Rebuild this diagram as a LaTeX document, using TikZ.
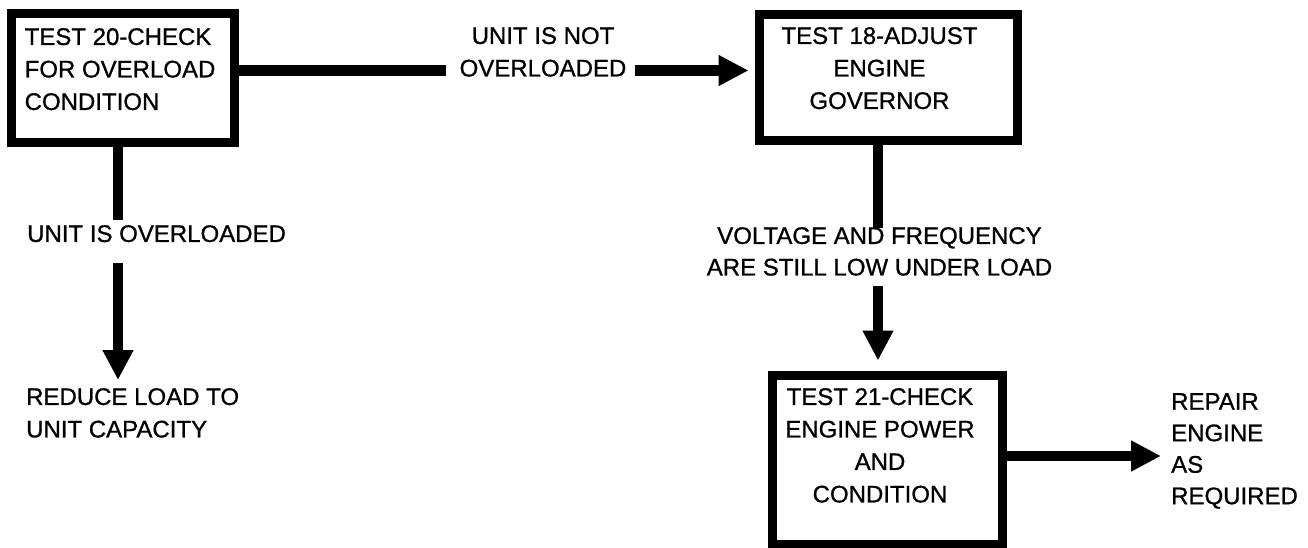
\documentclass[tikz,border=0pt]{standalone}
\usepackage{fontspec}
\setmainfont{Liberation Sans}[FakeBold=0.9]
\usetikzlibrary{arrows.meta}
\begin{document}
\begin{tikzpicture}[x=1pt,y=-1pt,
  box/.style={draw=black, line width=9pt, inner sep=0pt, rectangle},
  txt/.style={inner sep=0pt, font=\fontsize{24}{32.5}\selectfont},
  txtb/.style={inner sep=0pt, font=\fontsize{24}{31.5}\selectfont},
  conn/.style={line width=10.5pt, draw=black},
  arr/.style={conn, -{Triangle[length=30pt,width=29pt]}},
]
\useasboundingbox (0,0) rectangle (1308,548);
% boxes
\node[box, minimum width=223pt, minimum height=129pt] (b1) at (123,78) {};
\node[box, minimum width=258pt, minimum height=126pt] (b2) at (888.5,77.5) {};
\node[box, minimum width=230pt, minimum height=169pt] (b3) at (887.5,460) {};
% box texts
\node[txt, anchor=north west, align=left] (t1) at (24.5,28) {TEST 20-CHECK\\FOR OVERLOAD\\CONDITION};
\node[txt, anchor=north, align=center] (t2) at (879.5,27) {TEST 18-ADJUST\\ENGINE\\GOVERNOR};
\node[txt, anchor=north, align=center] (t3) at (880,388) {TEST 21-CHECK\\ENGINE POWER\\AND\\CONDITION};
% labels
\node[txt, anchor=north, align=center] (notover) at (543,27) {UNIT IS NOT\\OVERLOADED};
\node[txt, anchor=north west] (over) at (27,225) {UNIT IS OVERLOADED};
\node[txtb, anchor=north, align=center] (volt) at (879.5,227) {VOLTAGE AND FREQUENCY\\ARE STILL LOW UNDER LOAD};
\node[txt, anchor=north west, align=left] (reduce) at (26,388) {REDUCE LOAD TO\\UNIT CAPACITY};
\node[txtb, anchor=north west, align=left] (repair) at (1171,393) {REPAIR\\ENGINE\\AS\\REQUIRED};
% connectors
\coordinate (v1) at (118,0);
\coordinate (v2) at (878,0);
\draw[conn, shorten >=13pt] ([yshift=7.5pt]b1.east) -- ([yshift=7.5pt]b1.east -| notover.west);
\draw[arr, shorten <=8pt, shorten >=6.5pt] ([yshift=7.5pt]b1.east -| notover.east) -- ([yshift=7.5pt]b1.east -| b2.west);
\draw[conn, shorten >=5pt] (b1.south -| v1) -- (over.north -| v1);
\draw[arr, shorten <=21pt, shorten >=8pt] (over.south -| v1) -- (reduce.north -| v1);
\draw[conn, shorten >=-1pt] (b2.south -| v2) -- (volt.north -| v2);
\draw[arr, shorten <=10pt, shorten >=10.5pt] (volt.south -| v2) -- (b3.north -| v2);
\draw[arr, shorten >=10pt] ([yshift=4pt]b3.east) -- ([yshift=4pt]b3.east -| repair.west);
\end{tikzpicture}
\end{document}
